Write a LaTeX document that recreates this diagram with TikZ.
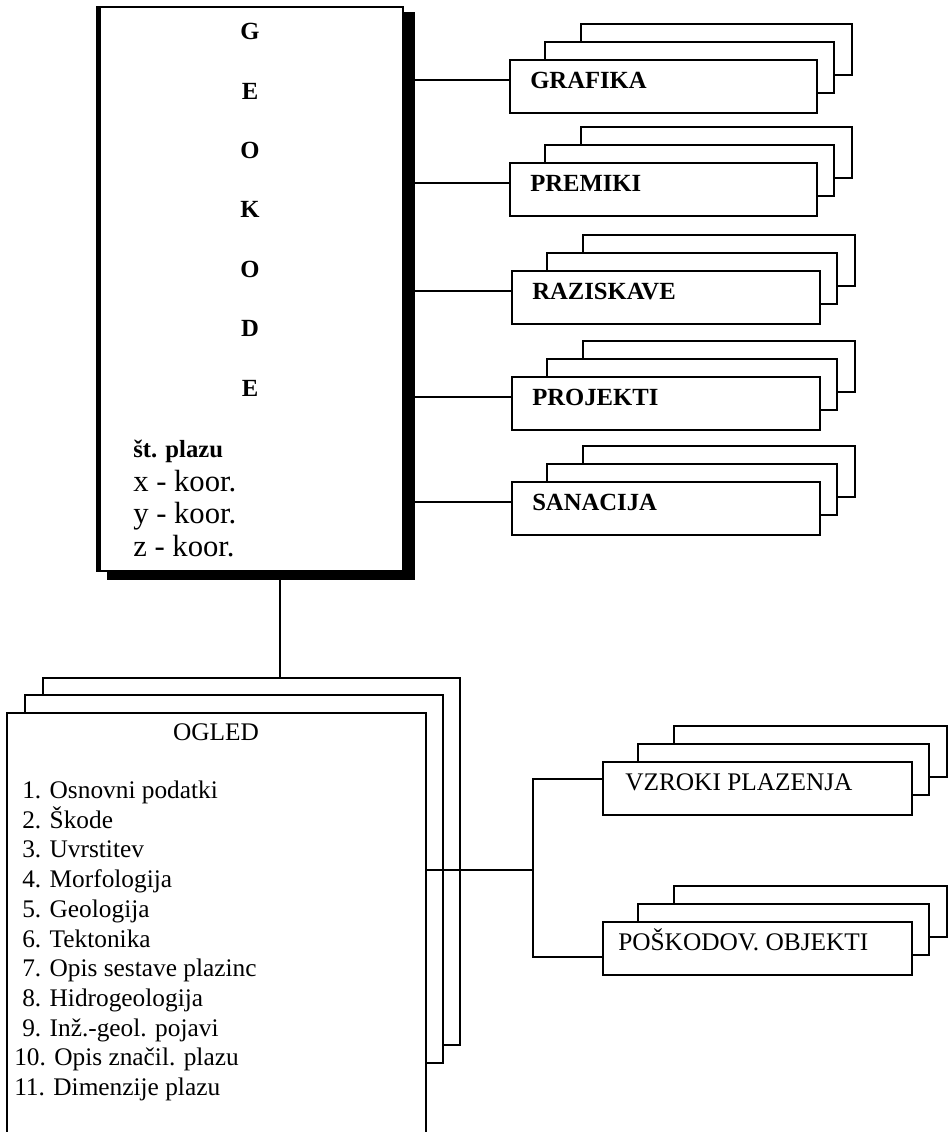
\documentclass[tikz,border=0pt]{standalone}
\usepackage{fontspec}
\setmainfont{Liberation Serif}
\usetikzlibrary{calc}

% A stack of three sheets: back, middle, front, and the label on the front one.
% #1 name, #2 left, #3 top, #4 width of front sheet, #5 label inset, #6 label style, #7 label
\newcommand\paperstack[7]{%
  \node[sheet, minimum width={(#4-36)*0.75pt}, minimum height={51*0.75pt}] (#1-back) at ({#2+71},{#3-36}) {};
  \node[sheet, minimum width={(#4-18)*0.75pt}, minimum height={51*0.75pt}] (#1-mid) at ({#2+35},{#3-18}) {};
  \node[sheet, minimum width={#4*0.75pt}, minimum height={53*0.75pt}] (#1) at (#2,#3) {};
  \node[#6] (#1-text) at ({#2+#5},{#3+28}) {#7};
}

\begin{document}
\begin{tikzpicture}[x=0.75pt, y=-0.75pt,
  line width=1.9pt,
  sheet/.style={draw, fill=white, line width=1.9pt, inner sep=0pt, outer sep=0pt, anchor=north west},
  conn/.style={draw, line width=1.9pt},
  boldlbl/.style={font=\fontsize{18.5}{22}\selectfont\bfseries, inner sep=0pt, anchor=base west},
  plainlbl/.style={font=\fontsize{19}{23}\selectfont, inner sep=0pt, anchor=base west},
  letter/.style={font=\fontsize{18.5}{22}\selectfont\bfseries, inner sep=0pt, anchor=base},
  coordlbl/.style={font=\fontsize{23}{27}\selectfont, inner sep=0pt, anchor=base west},
]
\useasboundingbox (0,0) rectangle (949,1132);
\clip (0,0) rectangle (949,1132);

% ---- GEOKODE master record with its drop shadow
\node[fill=black, inner sep=0pt, outer sep=0pt, anchor=north west,
      minimum width={308*0.75pt}, minimum height={568*0.75pt}] (geoshadow) at (107,12) {};
\node[sheet, minimum width={306*0.75pt}, minimum height={564*0.75pt}] (geo) at (97,7) {};
\draw[line width=3.6pt] ($(geo.north west)+(1.5,0)$) -- ($(geo.south west)+(1.5,0)$);

\node[letter] (g1) at (250,39)  {G};
\node[letter] (g2) at (250,99)  {E};
\node[letter] (g3) at (250,158) {O};
\node[letter] (g4) at (250,217) {K};
\node[letter] (g5) at (250,277) {O};
\node[letter] (g6) at (250,336) {D};
\node[letter] (g7) at (250,396) {E};

\node[boldlbl] (stpl) at (132,457) {št. plazu};
\node[coordlbl] (xk) at (132,491) {x - koor.};
\node[coordlbl] (yk) at (132,523) {y - koor.};
\node[coordlbl] (zk) at (132,556) {z - koor.};

% ---- linked tables on the right
\paperstack{graf}{510}{60}{307}{19}{boldlbl}{GRAFIKA}
\paperstack{prem}{510}{163}{307}{19}{boldlbl}{PREMIKI}
\paperstack{razi}{512}{271}{308}{19}{boldlbl}{RAZISKAVE}
\paperstack{proj}{512}{377}{308}{19}{boldlbl}{PROJEKTI}
\paperstack{sana}{512}{482}{308}{19}{boldlbl}{SANACIJA}

\foreach \n in {graf,prem,razi,proj,sana}
  \draw[conn] (geoshadow.east |- {$(\n.north west)+(0,20)$}) -- ($(\n.north west)+(0,20)$);

% ---- OGLED record
\node[sheet, minimum width={417*0.75pt}, minimum height={367*0.75pt}] (ogled-back) at (43,678) {};
\node[sheet, minimum width={418*0.75pt}, minimum height={368*0.75pt}] (ogled-mid) at (25,695) {};
\node[sheet, minimum width={419*0.75pt}, minimum height={500*0.75pt}] (ogled) at (7,713) {};

\node[font=\fontsize{19}{23}\selectfont, inner sep=0pt, anchor=base] (ogt) at (216,740) {OGLED};

\node[plainlbl] (i1)  at (21,798)  {1. Osnovni podatki};
\node[plainlbl] (i2)  at (21,828)  {2. Škode};
\node[plainlbl] (i3)  at (21,857)  {3. Uvrstitev};
\node[plainlbl] (i4)  at (21,887)  {4. Morfologija};
\node[plainlbl] (i5)  at (21,917)  {5. Geologija};
\node[plainlbl] (i6)  at (21,947)  {6. Tektonika};
\node[plainlbl] (i7)  at (21,976)  {7. Opis sestave plazinc};
\node[plainlbl] (i8)  at (21,1006) {8. Hidrogeologija};
\node[plainlbl] (i9)  at (21,1036) {9. Inž.-geol. pojavi};
\node[plainlbl] (i10) at (13,1065) {10. Opis značil. plazu};
\node[plainlbl] (i11) at (13,1095) {11. Dimenzije plazu};

\coordinate (drop) at (280,0);
\draw[conn] (geoshadow.south -| drop) -- (ogled-back.north -| drop);

% ---- sub-tables of OGLED
\paperstack{vzr}{603}{762}{309}{21}{plainlbl}{VZROKI PLAZENJA}
\paperstack{posk}{603}{922}{309}{14}{plainlbl}{POŠKODOV. OBJEKTI}

\coordinate (fork) at (533,870);
\draw[conn] (ogled.east |- fork) -- (fork);
\draw[conn] ($(vzr.north west)+(0,17)$) -| (fork) |- ($(posk.north west)+(0,35)$);

\end{tikzpicture}
\end{document}
